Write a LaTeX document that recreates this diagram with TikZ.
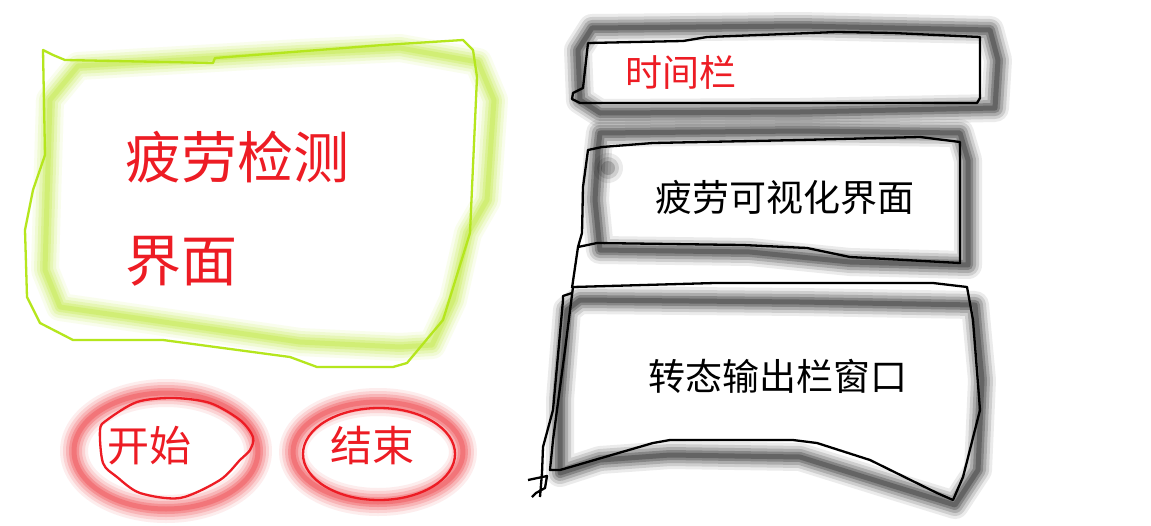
\documentclass[tikz,border=0pt]{standalone}
\usepackage{fontspec}
\newfontfamily\cjk{Noto Sans CJK SC}
\usepackage{xcolor}
\definecolor{paintlime}{RGB}{181,230,29}
\definecolor{paintred}{RGB}{237,28,36}
\definecolor{pencil}{RGB}{0,0,0}
% soft crayon stroke under the pen line
\newcommand{\smear}[2]{%
  \foreach \w/\o in {28/0.08,22/0.12,16/0.16,10/0.22,5/0.25}
    \draw[#1, line width=\w pt, opacity=\o, line join=round, line cap=round] #2;}

\begin{document}
\begin{tikzpicture}[x=1pt, y=-1pt,
  pen/.style={line width=2.3pt, line join=round},
  redlabel/.style={paintred, inner sep=0pt, anchor=west},
  blacklabel/.style={pencil, inner sep=0pt, anchor=west}]
  \useasboundingbox[fill=white] (0,0) rectangle (1151,525);
  % Detection panel
  \smear{paintlime}{(78,66) -- (300,53) -- (400,48) -- (478,62) -- (494,100) -- (487,200) -- (468,233) -- (453,300) -- (432,345) -- (400,347) -- (300,342) -- (150,320) -- (60,307) -- (45,270) -- (47,200) -- (50,100) -- cycle}
  \draw[pen, paintlime] (43,50) -- (53,55) -- (65,60) -- (213,63) -- (215,58) -- (383,45) -- (463,40) -- (473,50) -- (477,77) -- (470,233) -- (443,320) -- (407,363) -- (393,367) -- (317,367) -- (290,357) -- (163,340) -- (73,340) -- (40,323) -- (27,297) -- (25,230) -- (33,190) -- (45,155) -- cycle;
  \node[redlabel, font=\cjk\fontsize{56}{103}\selectfont, align=left] (detect) at (125,209) {疲劳检测\\界面};
  % Time bar
  \smear{pencil}{(592,28) -- (800,26) -- (990,30) -- (998,60) -- (995,108) -- (800,112) -- (600,113) -- (580,100) -- (578,50) -- cycle}
  \draw[pen, pencil] (588,43) -- (683,41) -- (707,37) -- (837,32) -- (893,33) -- (980,37) -- (980,98) -- (977,103) -- (580,103) -- (572,99) -- (573,93) -- (583,88) -- cycle;
  \node[redlabel, font=\cjk\fontsize{37}{44}\selectfont] (timebar) at (625,72) {时间栏};
  % Visual panel
  \smear{pencil}{(600,133) -- (800,131) -- (960,133) -- (968,160) -- (968,265) -- (850,262) -- (750,252) -- (600,250) -- (595,200) -- (598,150) -- cycle}
  \foreach \r/\o in {15/0.08,11/0.12,7/0.18}
    \fill[pencil, opacity=\o] (608,168) circle (\r pt);
  \draw[pen, pencil] (572,288) -- (578,247) -- (582,233) -- (583,187) -- (588,150) -- (602,147) -- (653,143) -- (800,140) -- (920,137) -- (960,142) -- (960,263) -- (850,257) -- (807,248) -- (743,245) -- (597,243) -- (578,247);
  \node[blacklabel, font=\cjk\fontsize{37}{44}\selectfont] (vispanel) at (655,197) {疲劳可视化界面};
  % Status window
  \smear{pencil}{(580,300) -- (800,302) -- (975,305) -- (982,380) -- (978,470) -- (955,505) -- (890,485) -- (800,457) -- (670,455) -- (600,460) -- (560,473) -- (560,400) -- (567,310) -- cycle}
  \draw[pen, pencil] (573,287) -- (715,283) -- (933,283) -- (967,287) -- (973,320) -- (980,410) -- (963,477) -- (953,500) -- (937,493) -- (870,460) -- (817,443) -- (793,440) -- (670,440) -- (653,443) -- (560,470) -- (550,470) -- (553,440) -- (565,350) -- cycle;
  \draw[pen, pencil] (572,293) -- (563,296) -- (563,300) -- (553,410) -- (543,447) -- (542,473) -- (540,497);
  \draw[pen, pencil] (528,480) -- (547,476) -- (545,488) -- (536,493) -- (532,497);
  \node[blacklabel, font=\cjk\fontsize{37}{44}\selectfont] (statuswin) at (648,376) {转态输出栏窗口};
  % Buttons
  \smear{paintred}{(166,451) ellipse [x radius=92pt, y radius=58pt]}
  \draw[pen, paintred] plot[smooth cycle] coordinates {(100,430) (107,420) (137,402) (173,398) (210,403) (240,420) (253,437) (250,450) (240,460) (220,480) (180,498) (140,493) (117,477) (103,463)};
  \node[redlabel, font=\cjk\fontsize{42}{48}\selectfont] (startbtn) at (107,446) {开始};
  \smear{paintred}{(378,452) ellipse [x radius=85pt, y radius=50pt]}
  \draw[pen, paintred] (379,454) ellipse [x radius=76pt, y radius=46pt];
  \node[redlabel, font=\cjk\fontsize{42}{48}\selectfont] (stopbtn) at (330,446) {结束};
\end{tikzpicture}
\end{document}
